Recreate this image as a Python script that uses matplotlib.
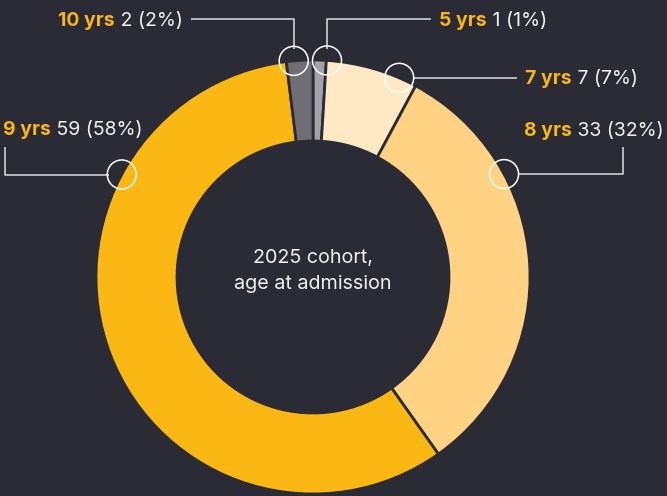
import numpy as np
import matplotlib
matplotlib.use("Agg")
import matplotlib.pyplot as plt
from matplotlib.patches import Circle

# data
ages = ["5 yrs", "7 yrs", "8 yrs", "9 yrs", "10 yrs"]
counts = [1, 7, 33, 59, 2]
colors = ["#a3a2a8", "#ffe9c5", "#ffd383", "#fbb814", "#6f6e76"]

BG = "#2a2b34"
GOLD = "#f9b51b"
WHITE = "#f0f0f0"
LINE = "#cfcfd3"

W, H = 667, 496
CX, CY = 313, H - 277
R_OUT, R_IN = 217, 136

plt.rcParams["font.family"] = ["Inter", "DejaVu Sans"]

fig = plt.figure(figsize=(W / 100, H / 100), dpi=100, facecolor=BG)
ax = fig.add_axes([0, 0, 1, 1])
ax.set_facecolor(BG)

ax.pie(counts, colors=colors, startangle=90, counterclock=False,
       radius=R_OUT, center=(CX, CY),
       wedgeprops=dict(width=R_OUT - R_IN, edgecolor=BG, linewidth=2.0))
ax.set_xlim(0, W)
ax.set_ylim(0, H)
ax.set_aspect("equal")
ax.axis("off")

total = sum(counts)
pcts = [round(100 * c / total) for c in counts]

# label layout (pixel coords from top): text anchor, side, circle angle, leader path
layout = {
    "10 yrs": dict(tx=183, ty=19, ha="right", ang=95.1,
                   path=[(191, 19), (294, 19), (294, 49)]),
    "5 yrs": dict(tx=439, ty=19, ha="left", ang=86.3,
                  path=[(431, 19), (327, 19), (327, 49)]),
    "7 yrs": dict(tx=525, ty=77, ha="left", ang=66.6,
                  path=[(413, 78), (517, 78)]),
    "8 yrs": dict(tx=524, ty=129, ha="left", ang=28.3,
                  path=[(518, 174), (623, 174), (623, 147)]),
    "9 yrs": dict(tx=3, ty=128, ha="left", ang=151.8,
                  path=[(5, 147), (5, 175), (109, 175)]),
}

FS = 14
renderer = fig.canvas.get_renderer()
for age, c, p in zip(ages, counts, pcts):
    L = layout[age]
    # marker circle on the outer edge
    a = np.deg2rad(L["ang"])
    ax.add_patch(Circle((CX + R_OUT * np.cos(a), CY + R_OUT * np.sin(a)), 14.5,
                        fill=False, edgecolor="white", linewidth=1.1, zorder=5))
    xs = [pt[0] for pt in L["path"]]
    ys = [H - pt[1] for pt in L["path"]]
    ax.plot(xs, ys, color=LINE, lw=1.2, zorder=4, solid_capstyle="butt")

    t1 = ax.text(0, H - L["ty"], age, color=GOLD, fontsize=FS, fontweight="bold",
                 ha="left", va="center_baseline")
    t2 = ax.text(0, H - L["ty"], f" {c} ({p}%)", color=WHITE, fontsize=FS,
                 ha="left", va="center_baseline")
    w1 = t1.get_window_extent(renderer).width
    w2 = t2.get_window_extent(renderer).width
    x0 = L["tx"] if L["ha"] == "left" else L["tx"] - w1 - w2
    t1.set_x(x0)
    t2.set_x(x0 + w1)

ax.text(CX, H - 258, "2025 cohort,", color=WHITE, fontsize=14.2,
        ha="center", va="center")
ax.text(CX, H - 284, "age at admission", color=WHITE, fontsize=14.2,
        ha="center", va="center")

fig.savefig("out.png", dpi=100, facecolor=BG)
